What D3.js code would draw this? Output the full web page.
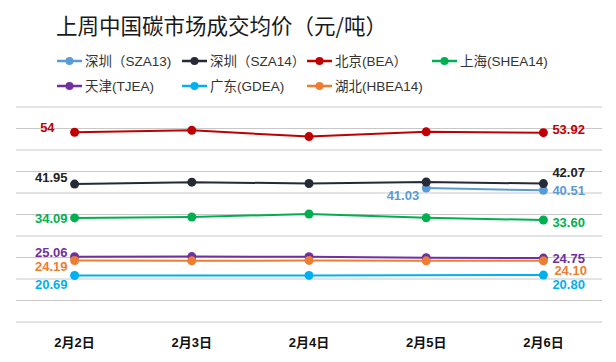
<!DOCTYPE html>
<html>
  <head>
    <meta charset="utf-8" />
    <script src="https://d3js.org/d3.v7.min.js"></script>
    <style>
      body { margin: 0; background: #fff; }
      text { font-family: "Liberation Sans", Arial, "Noto Sans CJK SC", sans-serif; text-spacing-trim: space-all; }
      .grid line { stroke: #c8c8c8; stroke-width: 1px; }
      .xaxis text { font-size: 13px; font-weight: bold; fill: #111; }
      .legend text { font-size: 13.5px; fill: #333; }
      .val { font-size: 13px; font-weight: bold; }
    </style>
  </head>
  <body>
    <svg id="chart" width="616" height="362"></svg>
    <script>
      // data
      var categories = ["2月2日", "2月3日", "2月4日", "2月5日", "2月6日"];
      var seriesNames = ["深圳（SZA13)", "深圳（SZA14）", "北京(BEA）", "上海(SHEA14)",
                         "天津(TJEA)", "广东(GDEA)", "湖北(HBEA14)"];
      var sza13  = [null, null, null, 41.03, 40.51];
      var sza14  = [41.95, 42.4, 42.1, 42.45, 42.07];
      var bea    = [54, 54.45, 53.0, 54.1, 53.92];
      var shea14 = [34.09, 34.3, 35.0, 34.1, 33.60];
      var tjea   = [25.06, 25.1, 25.05, 24.85, 24.75];
      var gdea   = [20.69, null, 20.72, null, 20.80];
      var hbea14 = [24.19, 24.1, 24.2, 24.1, 24.10];
      var yTicks = [10, 15, 20, 25, 30, 35, 40, 45, 50, 55, 60];

      var values = [sza13, sza14, bea, shea14, tjea, gdea, hbea14];
      var colors = ["#5b9bd5", "#252a36", "#c00000", "#00b050", "#7030a0", "#00b0f0", "#ed7d31"];
      var labelColors = ["#5b9bd5", "#222222", "#c00000", "#00b050", "#7030a0", "#00b0f0", "#ed7d31"];

      // label nudges [dx, dy] for first and last label of each series
      var startNudge = [[-7, 7], [-7, -7], [-20, -4.5], [-7, 1], [-7, -4], [-7, 8.5], [-7, 6.5]];
      var endNudge   = [[9, 0], [9, -11], [9, -3.5], [9, 2.5], [9, 0], [9, 9.5], [11, 9.5]];

      var svg = d3.select("#chart");

      var x = d3.scaleBand().domain(categories).range([16, 602]);
      var y = d3.scaleLinear().domain([10, 60]).range([321.5, 106.5]);
      function cx(i) { return x(categories[i]) + x.bandwidth() / 2; }

      // title
      svg.append("text")
        .attr("x", 56)
        .attr("y", 24)
        .attr("dominant-baseline", "central")
        .style("font-family", "'Noto Sans CJK SC', sans-serif")
        .style("font-size", "21.5px")
        .style("fill", "#1a1a1a")
        .text("上周中国碳市场成交均价（元/吨）");

      // legend
      var legend = svg.append("g").attr("class", "legend");
      seriesNames.forEach(function(name, i) {
        var lx = 57 + (i % 4) * 125;
        var ly = 61 + Math.floor(i / 4) * 25;
        var g = legend.append("g").attr("transform", "translate(" + lx + "," + ly + ")");
        g.append("line").attr("x1", 0).attr("x2", 25).attr("y1", 0).attr("y2", 0)
          .attr("stroke", colors[i]).attr("stroke-width", 2.5);
        g.append("circle").attr("cx", 12.5).attr("cy", 0).attr("r", 4).attr("fill", colors[i]);
        g.append("text").attr("x", 28).attr("y", 0).attr("dominant-baseline", "central").text(name);
      });

      // grid lines
      svg.append("g")
        .attr("class", "grid")
        .attr("transform", "translate(16,0)")
        .call(d3.axisLeft(y).tickValues(yTicks).tickSize(-586).tickFormat(""))
        .call(function(g) { g.select(".domain").remove(); });

      // x axis labels
      svg.append("g")
        .attr("class", "xaxis")
        .attr("transform", "translate(0,337)")
        .call(d3.axisBottom(x).tickSize(0).tickPadding(0))
        .call(function(g) { g.select(".domain").remove(); })
        .selectAll("text")
        .attr("dy", "0.75em");

      // lines + points
      var line = d3.line()
        .x(function(d) { return cx(d.i); })
        .y(function(d) { return y(d.v); });

      values.forEach(function(arr, s) {
        var pts = [];
        arr.forEach(function(v, i) { if (v != null) pts.push({ i: i, v: v }); });

        svg.append("path")
          .datum(pts)
          .attr("fill", "none")
          .attr("stroke", colors[s])
          .attr("stroke-width", 2)
          .attr("d", line);

        svg.selectAll(null)
          .data(pts)
          .enter().append("circle")
          .attr("cx", function(d) { return cx(d.i); })
          .attr("cy", function(d) { return y(d.v); })
          .attr("r", 4.5)
          .attr("fill", colors[s]);

        var fmt = function(v) { return Number.isInteger(v) ? String(v) : v.toFixed(2); };
        var first = pts[0], last = pts[pts.length - 1];

        svg.append("text")
          .attr("class", "val")
          .attr("x", cx(first.i) + startNudge[s][0])
          .attr("y", y(first.v) + startNudge[s][1])
          .attr("text-anchor", "end")
          .attr("dominant-baseline", "central")
          .attr("fill", labelColors[s])
          .text(fmt(first.v));

        svg.append("text")
          .attr("class", "val")
          .attr("x", cx(last.i) + endNudge[s][0])
          .attr("y", y(last.v) + endNudge[s][1])
          .attr("text-anchor", "start")
          .attr("dominant-baseline", "central")
          .attr("fill", labelColors[s])
          .text(fmt(last.v));
      });
    </script>
  </body>
</html>
